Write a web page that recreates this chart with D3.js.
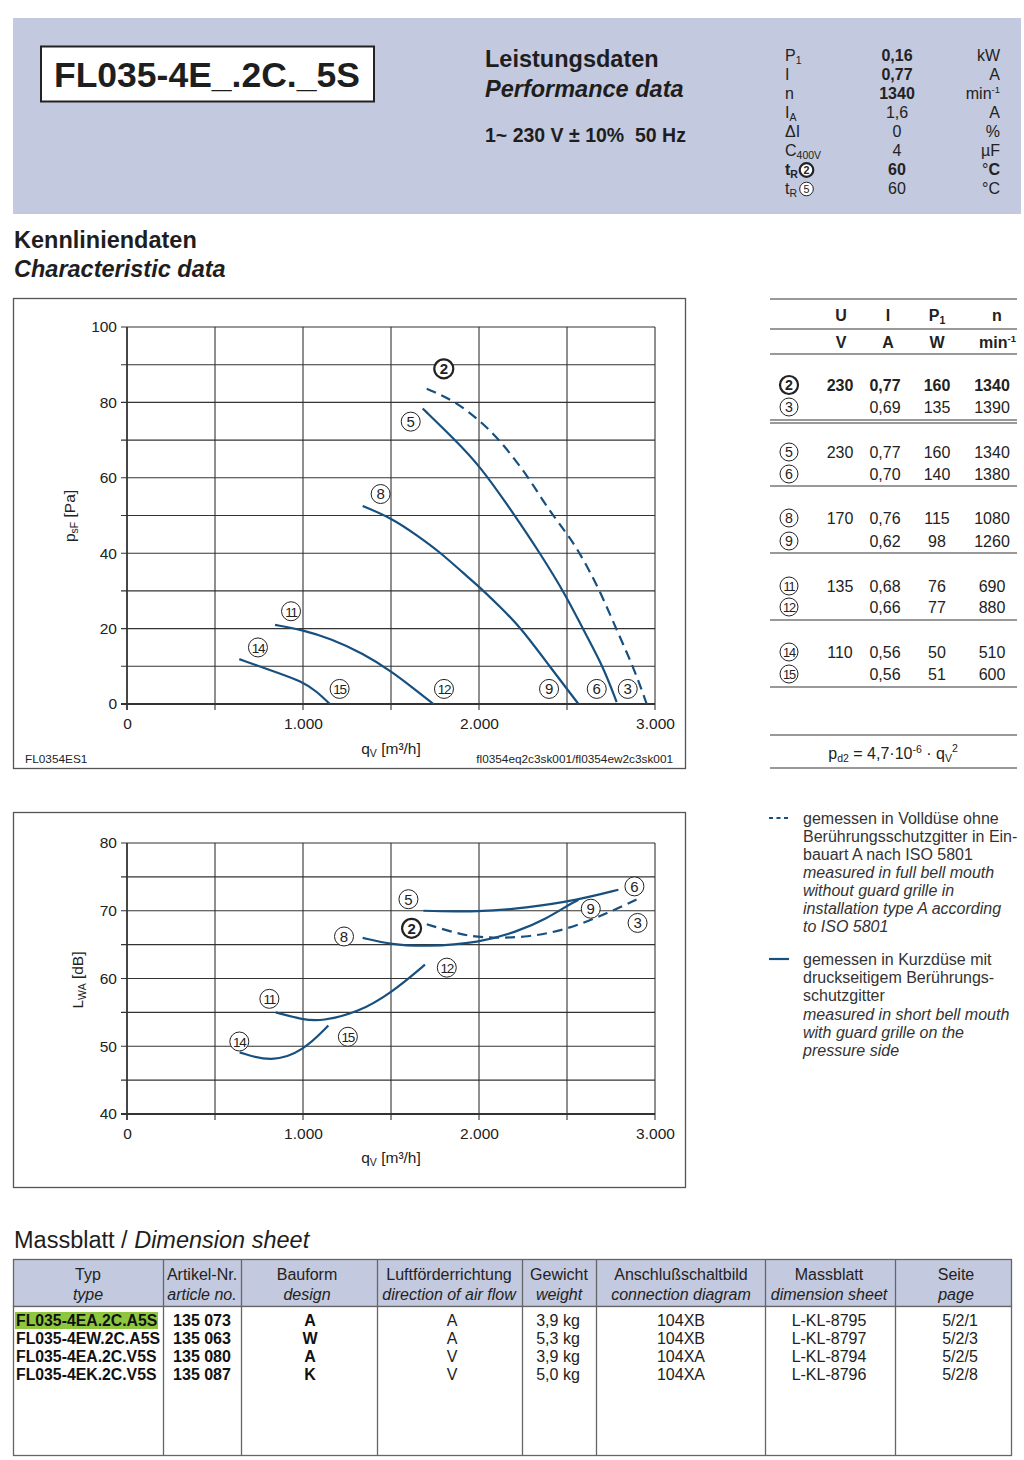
<!DOCTYPE html>
<html><head><meta charset="utf-8">
<script src="https://cdn.jsdelivr.net/npm/d3@7"></script>
<style>
body{margin:0;background:#fff;}
svg{display:block;font-family:"Liberation Sans",Arial,sans-serif;}
</style></head>
<body>
<svg id="s" width="1024" height="1460"></svg>
<script>
// ---------- DATA ----------
const title = "FL035-4E_.2C._5S";
const perfLabels = ["P1","I","n","IA","ΔI","C400V","tR2","tR5"];
const perfValues = ["0,16","0,77","1340","1,6","0","4","60","60"];
const perfUnits  = ["kW","A","min-1","A","%","µF","°C","°C"];
const perfBold   = [true,true,true,false,false,false,true,false];

const qTicks = [0,1000,2000,3000];
const qGrid  = [0,500,1000,1500,2000,2500,3000];
const pTicks = [0,20,40,60,80,100];
const pGrid  = [0,10,20,30,40,50,60,70,80,90,100];
const lTicks = [40,50,60,70,80];
const lGrid  = [40,45,50,55,60,65,70,75,80];

// pressure curves psF [Pa] vs qV [m3/h]
const psf2  = [[1703,83.6],[1854,80.6],[2002,75.3],[2119,70],[2280,60.3],[2384,52.3],[2498,45.3],[2574,40],[2688,30],[2782,19.6],[2877,9.9],[2953,0]];
const psf5  = [[1680,78.4],[1854,70.5],[2002,63.4],[2195,50.6],[2347,40],[2498,28.5],[2593,19.6],[2706,9.9],[2782,0.5]];
const psf8  = [[1339,52.5],[1504,49.3],[1646,44.8],[1778,40.3],[1911,34.7],[2002,31.1],[2119,25.8],[2233,20.5],[2403,9.9],[2565,0]];
const psf11 = [[841,21],[1002,19.6],[1153,17.4],[1343,13.4],[1504,8.6],[1627,4.2],[1741,0]];
const psf14 = [[638,11.9],[813,9],[1002,5.9],[1078,3.3],[1153,0]];

// sound power curves LWA [dB] vs qV [m3/h]
const lwa2  = [[1703,68.0],[1883,66.6],[2002,66.0],[2261,66.0],[2502,67.2],[2735,69.7],[2924,72.0]];
const lwa5  = [[1684,70.0],[2002,69.8],[2261,70.4],[2565,71.6],[2792,73.1]];
const lwa8  = [[1339,66.0],[1504,65.0],[1693,64.7],[2002,65.25],[2224,67.0],[2375,68.7],[2526,71.15],[2565,71.6]];
const lwa11 = [[845,55.0],[1002,53.9],[1106,53.7],[1314,55.0],[1504,57.9],[1693,62.05]];
const lwa14 = [[640,49.1],[822,47.6],[1002,49.3],[1144,53.05]];

// curve marker labels [id, q, value]
const psfMarks = [[2,1800,88.9],[5,1612,74.9],[8,1441,55.7],[11,932,24.6],[14,744,15.0],[15,1208,4.0],[12,1801,4.0],[9,2398,4.0],[6,2669,4.0],[3,2845,4.0]];
const lwaMarks = [[5,1599,71.7],[6,2883,73.6],[9,2635,70.3],[3,2901,68.2],[2,1617,67.4],[8,1233,66.2],[12,1817,61.6],[11,809,57.0],[14,638,50.7],[15,1255,51.4]];

// operating points table
const opIds = [2,3,5,6,8,9,11,12,14,15];
const opU   = ["230","","230","","170","","135","","110",""];
const opI   = ["0,77","0,69","0,77","0,70","0,76","0,62","0,68","0,66","0,56","0,56"];
const opP   = ["160","135","160","140","115","98","76","77","50","51"];
const opN   = ["1340","1390","1340","1380","1080","1260","690","880","510","600"];

// dimension sheet table
const dimHead1 = ["Typ","Artikel-Nr.","Bauform","Luftförderrichtung","Gewicht","Anschlußschaltbild","Massblatt","Seite"];
const dimHead2 = ["type","article no.","design","direction of air flow","weight","connection diagram","dimension sheet","page"];
const dimType  = ["FL035-4EA.2C.A5S","FL035-4EW.2C.A5S","FL035-4EA.2C.V5S","FL035-4EK.2C.V5S"];
const dimArt   = ["135 073","135 063","135 080","135 087"];
const dimDes   = ["A","W","A","K"];
const dimAir   = ["A","A","V","V"];
const dimW     = ["3,9 kg","5,3 kg","3,9 kg","5,0 kg"];
const dimConn  = ["104XB","104XB","104XA","104XA"];
const dimSheet = ["L-KL-8795","L-KL-8797","L-KL-8794","L-KL-8796"];
const dimPage  = ["5/2/1","5/2/3","5/2/5","5/2/8"];

// ---------- DRAW ----------
const svg = d3.select("#s");
const BAND = "#c3c9de", CURVE = "#17507f", INK = "#1e1e1e";
svg.append("rect").attr("width",1024).attr("height",1460).attr("fill","#fff");

// header band
svg.append("rect").attr("x",13).attr("y",18).attr("width",1008).attr("height",196).attr("fill",BAND);
svg.append("rect").attr("x",41).attr("y",46.5).attr("width",333).attr("height",55).attr("fill","#fff").attr("stroke","#222").attr("stroke-width",2);
svg.append("text").attr("x",54).attr("y",87).attr("font-size",35.5).attr("font-weight","bold").attr("fill",INK).text(title);
svg.append("text").attr("x",485).attr("y",67).attr("font-size",23.5).attr("font-weight","bold").attr("fill",INK).text("Leistungsdaten");
svg.append("text").attr("x",485).attr("y",97).attr("font-size",23.5).attr("font-weight","bold").attr("font-style","italic").attr("fill",INK).text("Performance data");
svg.append("text").attr("x",485).attr("y",142).attr("font-size",19.5).attr("font-weight","bold").attr("fill",INK).attr("xml:space","preserve").style("white-space","pre").text("1~ 230 V ± 10%  50 Hz");

function circled(g, cx, cy, num, bold, r){
  r = r || 9.5;
  const k = r/9.5;
  g.append("circle").attr("cx",cx).attr("cy",cy).attr("r",r).attr("fill","#fff")
   .attr("stroke","#222").attr("stroke-width",bold?2.2:1);
  const s = String(num);
  g.append("text").attr("x",cx).attr("y",cy+5.3*k).attr("text-anchor","middle")
   .attr("font-size", (s.length>1 ? 13.5 : 15)*k).attr("font-weight",bold?"bold":"normal")
   .attr("letter-spacing", s.length>1 ? -1.2*k : 0).attr("fill","#222").text(s);
}

// perf table
const perfY = d3.range(perfLabels.length).map(i => 60.5 + i*19);
perfLabels.forEach((lab,i)=>{
  const y = perfY[i];
  const t = svg.append("text").attr("x",785).attr("y",y).attr("font-size",16).attr("fill","#222");
  if(lab==="P1"){ t.text("P"); t.append("tspan").attr("font-size",10.5).attr("dy",3).text("1"); }
  else if(lab==="IA"){ t.text("I"); t.append("tspan").attr("font-size",10.5).attr("dy",3).text("A"); }
  else if(lab==="C400V"){ t.text("C"); t.append("tspan").attr("font-size",10.5).attr("dy",3).text("400V"); }
  else if(lab==="tR2"||lab==="tR5"){
    const b = lab==="tR2";
    t.attr("font-weight",b?"bold":"normal").text("t");
    t.append("tspan").attr("font-size",10.5).attr("dy",3).text("R");
    circled(svg, 806.5, y-4.5, b?2:5, b, 6.8);
  }
  else t.text(lab);
  svg.append("text").attr("x",897).attr("y",y).attr("text-anchor","middle").attr("font-size",16)
    .attr("font-weight",perfBold[i]?"bold":"normal").attr("fill","#222").text(perfValues[i]);
  const u = svg.append("text").attr("x",1000).attr("y",y).attr("text-anchor","end").attr("font-size",16).attr("fill","#222");
  if(perfUnits[i]==="min-1"){ u.text("min"); u.append("tspan").attr("font-size",9.5).attr("dy",-6).text("-1"); }
  else if(i===6){ u.text("°"); u.append("tspan").attr("font-weight","bold").text("C"); }
  else u.text(perfUnits[i]);
});

// section title
svg.append("text").attr("x",14).attr("y",248).attr("font-size",23.5).attr("font-weight","bold").attr("fill",INK).text("Kennliniendaten");
svg.append("text").attr("x",14).attr("y",277).attr("font-size",23.5).attr("font-weight","bold").attr("font-style","italic").attr("fill",INK).text("Characteristic data");

const fmt = d3.formatLocale({decimal:",",thousands:".",grouping:[3],currency:["","€"]}).format(",");

function chart(opt){
  const g = svg.append("g");
  g.append("rect").attr("x",opt.box[0]).attr("y",opt.box[1]).attr("width",opt.box[2]).attr("height",opt.box[3])
    .attr("fill","#fff").attr("stroke","#555").attr("stroke-width",1.3);
  const x = d3.scaleLinear().domain([0,3000]).range([127,655]);
  const y = d3.scaleLinear().domain(opt.ydom).range(opt.yrange);
  // grid
  g.selectAll(".hg").data(opt.ygrid).join("line").attr("x1",121).attr("x2",655)
    .attr("y1",d=>y(d)).attr("y2",d=>y(d)).attr("stroke","#333").attr("stroke-width",d=>d===opt.ydom[0]?1.8:1.1);
  g.selectAll(".vg").data(qGrid).join("line").attr("y1",y(opt.ydom[1])).attr("y2",y(opt.ydom[0])+6)
    .attr("x1",d=>x(d)).attr("x2",d=>x(d)).attr("stroke","#333").attr("stroke-width",d=>d===0?1.8:1.1);
  // axes (labels)
  const ax = g.append("g").attr("transform",`translate(0,${y(opt.ydom[0])})`)
    .call(d3.axisBottom(x).tickValues(qTicks).tickSize(6).tickPadding(8).tickFormat(fmt));
  const ay = g.append("g").attr("transform","translate(127,0)")
    .call(d3.axisLeft(y).tickValues(opt.yticks).tickSize(6).tickPadding(4));
  [ax,ay].forEach(a=>{ a.select(".domain").remove(); a.selectAll("line").remove();
    a.selectAll("text").attr("font-size",15.5).attr("fill","#222").attr("font-family","Liberation Sans, Arial, sans-serif"); });
  // titles
  const xt = g.append("text").attr("x",391).attr("y",opt.xtY).attr("text-anchor","middle").attr("font-size",15.5).attr("fill","#222");
  xt.append("tspan").text("q"); xt.append("tspan").attr("font-size",10.5).attr("dy",3).text("V");
  xt.append("tspan").attr("dy",-3).text(" [m³/h]");
  const yt = g.append("text").attr("transform",`translate(${opt.ytX},${opt.ytY}) rotate(-90)`).attr("text-anchor","middle").attr("font-size",15.5).attr("fill","#222");
  yt.append("tspan").text(opt.ytMain); yt.append("tspan").attr("font-size",10.5).attr("dy",3).text(opt.ytSub);
  yt.append("tspan").attr("dy",-3).text(opt.ytUnit);
  // curves
  const line = d3.line().x(d=>x(d[0])).y(d=>y(d[1])).curve(d3.curveBasis);
  opt.curves.forEach(c=>{
    g.append("path").attr("d",line(c.data)).attr("fill","none").attr("stroke",CURVE)
     .attr("stroke-width",2.2).attr("stroke-dasharray",c.dash?"10,6":null).attr("stroke-linecap","butt");
  });
  opt.marks.forEach(m=> circled(g, x(m[1]), y(m[2]), m[0], m[0]===2));
  return g;
}

const c1 = chart({box:[13.5,298.5,672,470], ydom:[0,100], yrange:[704,327], ygrid:pGrid, yticks:pTicks,
  xtY:754, ytX:75, ytY:516, ytMain:"p", ytSub:"sF", ytUnit:" [Pa]",
  curves:[{data:psf2,dash:true},{data:psf5},{data:psf8},{data:psf11},{data:psf14}], marks:psfMarks});
c1.append("text").attr("x",25).attr("y",763).attr("font-size",11.8).attr("fill","#222").text("FL0354ES1");
c1.append("text").attr("x",673).attr("y",763).attr("text-anchor","end").attr("font-size",11.8).attr("fill","#222").text("fl0354eq2c3sk001/fl0354ew2c3sk001");

chart({box:[13.5,812.5,672,375], ydom:[40,80], yrange:[1114,843], ygrid:lGrid, yticks:lTicks,
  xtY:1163, ytX:83, ytY:980, ytMain:"L", ytSub:"WA", ytUnit:" [dB]",
  curves:[{data:lwa2,dash:true},{data:lwa5},{data:lwa8},{data:lwa11},{data:lwa14}], marks:lwaMarks});

// operating point table
const tl = svg.append("g").attr("stroke","#777").attr("stroke-width",1.3);
[299,329,354,420,423,486,553,620,687,735,768].forEach(yy=>{
  tl.append("line").attr("x1",770).attr("x2",1017).attr("y1",yy).attr("y2",yy);
});
const colX = [841,888,937,997];
[["U",""],["I",""],["P","1"],["n",""]].forEach((h,i)=>{
  const t = svg.append("text").attr("x",colX[i]).attr("y",321).attr("text-anchor","middle").attr("font-size",16).attr("font-weight","bold").attr("fill","#222").text(h[0]);
  if(h[1]) t.append("tspan").attr("font-size",10.5).attr("dy",3).text(h[1]);
});
["V","A","W"].forEach((h,i)=> svg.append("text").attr("x",colX[i]).attr("y",348).attr("text-anchor","middle").attr("font-size",16).attr("font-weight","bold").attr("fill","#222").text(h));
const mn = svg.append("text").attr("x",1016).attr("y",348).attr("text-anchor","end").attr("font-size",16).attr("font-weight","bold").attr("fill","#222").text("min");
mn.append("tspan").attr("font-size",9.5).attr("dy",-6).text("-1");

const rowY = [385,407,452,474,518,541,586,607,652,674];
const valX = [840,885,937,992];
opIds.forEach((id,i)=>{
  const y = rowY[i], b = i===0;
  circled(svg, 789, y, id, b, 9);
  [opU[i],opI[i],opP[i],opN[i]].forEach((v,j)=>{
    svg.append("text").attr("x",valX[j]).attr("y",y+5.5).attr("text-anchor","middle").attr("font-size",16)
      .attr("font-weight",b?"bold":"normal").attr("fill","#222").text(v);
  });
});
const fm = svg.append("text").attr("x",893).attr("y",759).attr("text-anchor","middle").attr("font-size",16).attr("fill","#222");
fm.append("tspan").text("p"); fm.append("tspan").attr("font-size",10.5).attr("dy",3).text("d2");
fm.append("tspan").attr("dy",-3).text(" = 4,7·10"); fm.append("tspan").attr("font-size",10.5).attr("dy",-6).text("-6");
fm.append("tspan").attr("dy",6).text(" · q"); fm.append("tspan").attr("font-size",10.5).attr("dy",3).text("V");
fm.append("tspan").attr("font-size",10.5).attr("dy",-10).text("2");

// legend
svg.append("line").attr("x1",769).attr("x2",790).attr("y1",818).attr("y2",818).attr("stroke",CURVE).attr("stroke-width",2).attr("stroke-dasharray","4,3.5");
svg.append("line").attr("x1",769).attr("x2",789).attr("y1",959).attr("y2",959).attr("stroke",CURVE).attr("stroke-width",2.2);
const leg1 = [["gemessen in Volldüse ohne",0],["Berührungsschutzgitter in Ein-",0],["bauart A nach ISO 5801",0],["measured in full bell mouth",1],["without guard grille in",1],["installation type A according",1],["to ISO 5801",1]];
const leg2 = [["gemessen in Kurzdüse mit",0],["druckseitigem Berührungs-",0],["schutzgitter",0],["measured in short bell mouth",1],["with guard grille on the",1],["pressure side",1]];
leg1.forEach((l,i)=> svg.append("text").attr("x",803).attr("y",824+i*18).attr("font-size",16).attr("font-style",l[1]?"italic":"normal").attr("fill","#333").text(l[0]));
leg2.forEach((l,i)=> svg.append("text").attr("x",803).attr("y",965+i*18.2).attr("font-size",16).attr("font-style",l[1]?"italic":"normal").attr("fill","#333").text(l[0]));

// dimension sheet
const ms = svg.append("text").attr("x",14).attr("y",1248).attr("font-size",23.5).attr("fill",INK);
ms.append("tspan").text("Massblatt / "); ms.append("tspan").attr("font-style","italic").text("Dimension sheet");
svg.append("rect").attr("x",13.5).attr("y",1259.5).attr("width",998).attr("height",47).attr("fill",BAND).attr("stroke","#666").attr("stroke-width",1.3);
svg.append("rect").attr("x",13.5).attr("y",1306.5).attr("width",998).attr("height",149).attr("fill","#fff").attr("stroke","#666").attr("stroke-width",1.3);
const colB = [163,241,377,522,596,765,895];
colB.forEach(cx=> svg.append("line").attr("x1",cx+0.5).attr("x2",cx+0.5).attr("y1",1259.5).attr("y2",1455.5).attr("stroke","#666").attr("stroke-width",1.3));
const headX = [88,202,307,449,559,681,829,956];
dimHead1.forEach((h,i)=>{
  svg.append("text").attr("x",headX[i]).attr("y",1280).attr("text-anchor","middle").attr("font-size",16).attr("fill","#222").text(h);
  svg.append("text").attr("x",headX[i]).attr("y",1300).attr("text-anchor","middle").attr("font-size",16).attr("font-style","italic").attr("fill","#222").text(dimHead2[i]);
});
svg.append("rect").attr("x",15).attr("y",1312).attr("width",143).attr("height",17).attr("fill","#8fc640");
const bodyY = [1326,1344,1362,1380];
dimType.forEach((t,i)=>{
  const y = bodyY[i];
  svg.append("text").attr("x",16).attr("y",y).attr("font-size",15.8).attr("font-weight","bold").attr("fill","#111").text(t);
  svg.append("text").attr("x",202).attr("y",y).attr("text-anchor","middle").attr("font-size",16).attr("font-weight","bold").attr("fill","#111").text(dimArt[i]);
  svg.append("text").attr("x",310).attr("y",y).attr("text-anchor","middle").attr("font-size",16).attr("font-weight","bold").attr("fill","#111").text(dimDes[i]);
  [[452,dimAir[i]],[558,dimW[i]],[681,dimConn[i]],[829,dimSheet[i]],[960,dimPage[i]]].forEach(p=>
    svg.append("text").attr("x",p[0]).attr("y",y).attr("text-anchor","middle").attr("font-size",16).attr("fill","#222").text(p[1]));
});
</script>
</body></html>
